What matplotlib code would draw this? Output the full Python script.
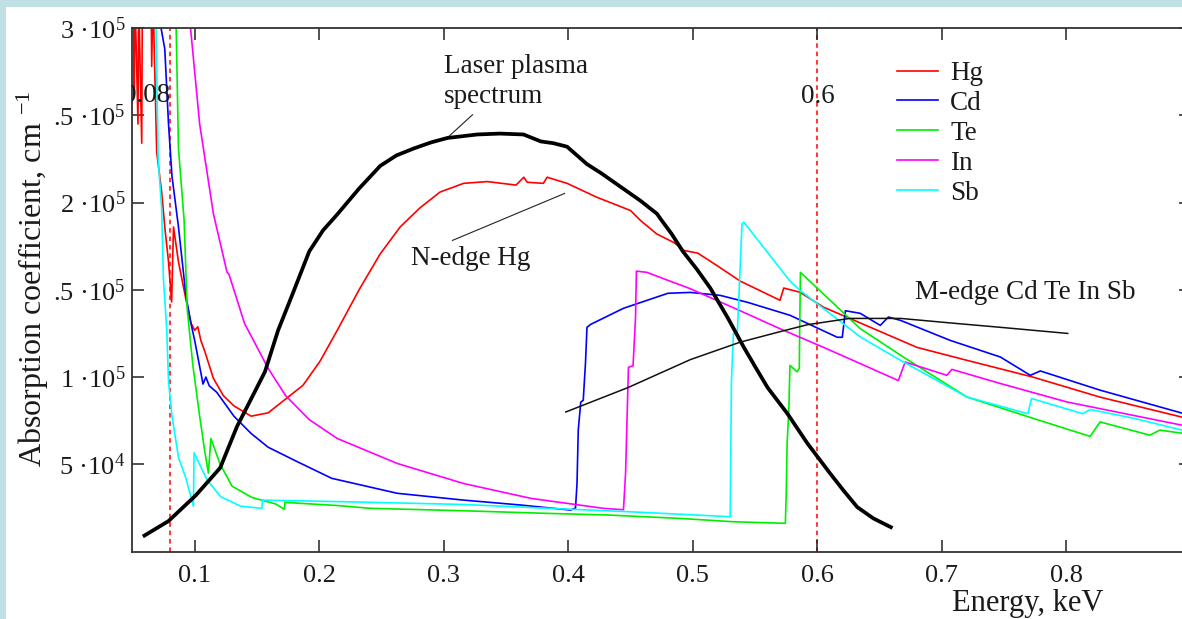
import matplotlib
matplotlib.use('Agg')
import matplotlib.pyplot as plt
from matplotlib.patches import Rectangle

plt.rcParams['font.family'] = ['Liberation Serif', 'DejaVu Serif']
plt.rcParams['mathtext.fontset'] = 'custom'
plt.rcParams['mathtext.rm'] = 'Liberation Serif'
plt.rcParams['mathtext.it'] = 'Liberation Serif:italic'

# Hg
hg_e = [0.0510, 0.0515, 0.0520, 0.0545, 0.0550, 0.0575, 0.0580, 0.0650, 0.0655, 0.0665,
        0.0695, 0.0735, 0.0760, 0.0790, 0.0815, 0.0830, 0.0870, 0.0930, 0.0970, 0.1000,
        0.1025, 0.1050, 0.1080, 0.1150, 0.1230, 0.1315, 0.1453, 0.1590, 0.1730, 0.1870,
        0.2006, 0.2145, 0.2320, 0.2490, 0.2650, 0.2810, 0.2970, 0.3160, 0.3350, 0.3580,
        0.3643, 0.3670, 0.3800, 0.3830, 0.3990, 0.4230, 0.4500, 0.4580, 0.4710, 0.4850,
        0.4930, 0.5040, 0.5170, 0.5380, 0.5700, 0.5730, 0.5860, 0.6050, 0.6260, 0.6670,
        0.6800, 0.7200, 0.7730, 0.8270, 0.8930]
hg_a = [3.2e5, 2.62e5, 3.2e5, 2.45e5, 3.2e5, 2.34e5, 3.2e5, 3.2e5, 2.78e5, 3.2e5,
        2.29e5, 2.06e5, 1.86e5, 1.66e5, 1.43e5, 1.86e5, 1.66e5, 1.445e5, 1.31e5, 1.268e5,
        1.288e5, 1.209e5, 1.15e5, 0.993e5, 0.894e5, 0.835e5, 0.776e5, 0.795e5, 0.874e5, 0.953e5,
        1.09e5, 1.268e5, 1.5e5, 1.706e5, 1.86e5, 1.97e5, 2.06e5, 2.11e5, 2.12e5, 2.10e5,
        2.145e5, 2.116e5, 2.11e5, 2.145e5, 2.11e5, 2.03e5, 1.954e5, 1.897e5, 1.82e5, 1.77e5,
        1.725e5, 1.71e5, 1.65e5, 1.55e5, 1.44e5, 1.51e5, 1.486e5, 1.40e5, 1.336e5, 1.21e5,
        1.17e5, 1.096e5, 1.00e5, 0.885e5, 0.77e5]

# Cd
cd_e = [0.0680, 0.0760, 0.0790, 0.0818, 0.0870, 0.0930, 0.0970, 0.1000, 0.1067, 0.1090,
        0.1117, 0.1177, 0.1315, 0.1453, 0.1590, 0.1810, 0.2100, 0.2627, 0.3160, 0.3616,
        0.4018, 0.4058, 0.4070, 0.4080, 0.4100, 0.4120, 0.4138, 0.4150, 0.4180, 0.4443,
        0.4800, 0.4980, 0.5220, 0.5440, 0.5780, 0.6160, 0.6200, 0.6225, 0.6345, 0.6505,
        0.6570, 0.6667, 0.7067, 0.7469, 0.7710, 0.7790, 0.8270, 0.8930]
cd_a = [3.2e5, 2.88e5, 2.45e5, 2.15e5, 1.86e5, 1.465e5, 1.308e5, 1.21e5, 0.96e5, 1.0e5,
        0.95e5, 0.913e5, 0.776e5, 0.677e5, 0.598e5, 0.52e5, 0.42e5, 0.334e5, 0.295e5, 0.267e5,
        0.238e5, 0.25e5, 0.39e5, 0.696e5, 0.856e5, 0.867e5, 1.08e5, 1.285e5, 1.302e5, 1.394e5,
        1.48e5, 1.485e5, 1.468e5, 1.428e5, 1.354e5, 1.228e5, 1.228e5, 1.38e5, 1.365e5, 1.296e5,
        1.344e5, 1.325e5, 1.21e5, 1.115e5, 1.01e5, 1.035e5, 0.925e5, 0.793e5]

# Te
te_e = [0.0846, 0.0870, 0.0915, 0.0940, 0.0985, 0.1040, 0.1080, 0.1110, 0.1130, 0.1205,
        0.1300, 0.1460, 0.1650, 0.1720, 0.1725, 0.2145, 0.2410, 0.3160, 0.3830, 0.4310,
        0.4900, 0.5326, 0.5743, 0.5750, 0.5757, 0.5770, 0.5780, 0.5837, 0.5855, 0.5858,
        0.5864, 0.6345, 0.6690, 0.7200, 0.7730, 0.8190, 0.8270, 0.8670, 0.8750, 0.8930]
te_a = [3.2e5, 2.31e5, 1.90e5, 1.39e5, 1.07e5, 0.776e5, 0.58e5, 0.45e5, 0.648e5, 0.50e5,
        0.375e5, 0.31e5, 0.273e5, 0.243e5, 0.282e5, 0.264e5, 0.248e5, 0.234e5, 0.219e5, 0.21e5,
        0.19e5, 0.171e5, 0.162e5, 0.335e5, 0.62e5, 0.80e5, 1.067e5, 1.03e5, 1.05e5, 1.277e5,
        1.60e5, 1.277e5, 1.115e5, 0.886e5, 0.764e5, 0.66e5, 0.743e5, 0.667e5, 0.696e5, 0.678e5]

# In
in_e = [0.0940, 0.1040, 0.1150, 0.1260, 0.1275, 0.1400, 0.1590, 0.1730, 0.1920, 0.2145,
        0.2627, 0.3160, 0.3700, 0.4280, 0.4443, 0.4460, 0.4483, 0.4520, 0.4540, 0.4547,
        0.4630, 0.4980, 0.5380, 0.5700, 0.6050, 0.6345, 0.6650, 0.6705, 0.7040, 0.7080,
        0.7470, 0.8000, 0.8540, 0.8930]
in_a = [3.2e5, 2.45e5, 1.937e5, 1.60e5, 1.59e5, 1.308e5, 1.05e5, 0.894e5, 0.756e5, 0.648e5,
        0.505e5, 0.39e5, 0.305e5, 0.248e5, 0.24e5, 0.45e5, 1.056e5, 1.065e5, 1.344e5, 1.607e5,
        1.60e5, 1.506e5, 1.38e5, 1.277e5, 1.17e5, 1.077e5, 0.98e5, 1.086e5, 1.01e5, 1.044e5,
        0.963e5, 0.858e5, 0.78e5, 0.724e5]

# Sb
sb_e = [0.0685, 0.0707, 0.0735, 0.0749, 0.0776, 0.0790, 0.0818, 0.0870, 0.0930, 0.0990,
        0.0995, 0.1100, 0.1210, 0.1370, 0.1540, 0.1545, 0.2250, 0.3160, 0.3780, 0.4500,
        0.5300, 0.5310, 0.5326, 0.5357, 0.5395, 0.5410, 0.5780, 0.5860, 0.6345, 0.6667,
        0.7200, 0.7690, 0.7720, 0.8130, 0.8190, 0.8540, 0.8930]
sb_a = [3.2e5, 2.25e5, 1.96e5, 1.565e5, 1.268e5, 0.973e5, 0.776e5, 0.54e5, 0.42e5, 0.26e5,
        0.566e5, 0.41e5, 0.314e5, 0.26e5, 0.248e5, 0.295e5, 0.285e5, 0.27e5, 0.25e5, 0.228e5,
        0.20e5, 0.98e5, 1.25e5, 1.25e5, 1.878e5, 1.887e5, 1.55e5, 1.497e5, 1.23e5, 1.096e5,
        0.886e5, 0.79e5, 0.877e5, 0.79e5, 0.814e5, 0.764e5, 0.696e5]

# laser plasma spectrum (arb. units on same scale)
laser_e = [0.0597, 0.0790, 0.1010, 0.1205, 0.1340, 0.1425, 0.1564, 0.1670, 0.1780, 0.1920,
           0.2030, 0.2140, 0.2320, 0.2490, 0.2620, 0.2760, 0.2900, 0.3030, 0.3270, 0.3450,
           0.3640, 0.3780, 0.3880, 0.3990, 0.4070, 0.4150, 0.4260, 0.4360, 0.4470, 0.4580,
           0.4713, 0.4740, 0.4830, 0.4920, 0.5030, 0.5140, 0.5280, 0.5410, 0.5500, 0.5600,
           0.5760, 0.5920, 0.6100, 0.6210, 0.6320, 0.6450, 0.6590]
laser_a = [0.092e5, 0.175e5, 0.323e5, 0.48e5, 0.717e5, 0.835e5, 1.03e5, 1.268e5, 1.465e5, 1.72e5,
           1.84e5, 1.928e5, 2.08e5, 2.21e5, 2.27e5, 2.31e5, 2.345e5, 2.37e5, 2.39e5, 2.395e5,
           2.39e5, 2.35e5, 2.34e5, 2.32e5, 2.27e5, 2.22e5, 2.17e5, 2.12e5, 2.065e5, 2.01e5,
           1.935e5, 1.907e5, 1.82e5, 1.72e5, 1.62e5, 1.51e5, 1.34e5, 1.17e5, 1.06e5, 0.94e5,
           0.79e5, 0.62e5, 0.45e5, 0.35e5, 0.255e5, 0.19e5, 0.14e5]

# M-edge guide curve
medge_e = [0.398, 0.448, 0.498, 0.538, 0.570, 0.592, 0.626, 0.667, 0.707, 0.747, 0.801]
medge_a = [0.80e5, 0.94e5, 1.10e5, 1.20e5, 1.26e5, 1.30e5, 1.336e5, 1.336e5, 1.31e5, 1.285e5, 1.25e5]

xticks = [0.1, 0.2, 0.3, 0.4, 0.5, 0.6, 0.7, 0.8]
xticklabels = ['0.1', '0.2', '0.3', '0.4', '0.5', '0.6', '0.7', '0.8']
yticks = [5e4, 1e5, 1.5e5, 2e5, 2.5e5, 3e5]
yticklabels = ['5 ·10$^{4}$', '1 ·10$^{5}$', '.5 ·10$^{5}$', '2 ·10$^{5}$', '.5 ·10$^{5}$', '3 ·10$^{5}$']
edges = [0.08, 0.6]

W, H = 1182, 619
fig = plt.figure(figsize=(W / 100, H / 100), dpi=100, facecolor='#bfe0e5')
fig.add_artist(Rectangle((6 / W, 0), 1, 1 - 7 / H, transform=fig.transFigure,
                         facecolor='white', edgecolor='none', zorder=-10))

ax = fig.add_axes([132.4 / W, (H - 551.6) / H, (1191 - 132.4) / W, (551.6 - 28) / H])
ax.set_xlim(0.05, 0.9)
ax.set_ylim(0, 3e5)

for xe in edges:
    ax.axvline(xe, color='red', lw=1.1, ls=(0, (3, 2.5)), zorder=1)

lw = 1.2
l_hg, = ax.plot(hg_e, hg_a, color='#ff0000', lw=lw, label='Hg')
l_cd, = ax.plot(cd_e, cd_a, color='#0000ff', lw=lw, label='Cd')
l_te, = ax.plot(te_e, te_a, color='#00ee00', lw=lw, label='Te')
l_in, = ax.plot(in_e, in_a, color='#ff00ff', lw=lw, label='In')
l_sb, = ax.plot(sb_e, sb_a, color='#00ffff', lw=lw, label='Sb')
ax.plot(laser_e, laser_a, color='black', lw=2.7, zorder=5)
ax.plot(medge_e, medge_a, color='#111111', lw=1.1, zorder=5)

# pointer lines for the annotations
ax.plot([0.3231, 0.303], [2.503e5, 2.372e5], color='#222222', lw=0.8)
ax.plot([0.307, 0.397], [1.783e5, 2.052e5], color='#222222', lw=0.8)

fs = 19.5
tc = '#1a1a1a'
ax.text(0.2998, 2.744e5, 'Laser plasma', fontsize=fs, color=tc, va='baseline')
ax.text(0.2998, 2.572e5, 'spectrum', fontsize=fs, color=tc, va='baseline')
ax.text(0.2734, 1.64e5, 'N-edge Hg', fontsize=fs, color=tc, va='baseline')
ax.text(0.6787, 1.45e5, 'M-edge Cd Te In Sb', fontsize=fs, color=tc, va='baseline')
ax.text(0.0805, 2.578e5, '0.08', fontsize=fs, color=tc, va='baseline', ha='right', clip_on=True)
ax.text(0.6, 2.572e5, '0.6', fontsize=fs, color=tc, va='baseline', ha='center')

ax.set_xticks(xticks)
ax.set_xticklabels(xticklabels)
ax.set_yticks(yticks)
ax.set_yticklabels(yticklabels)
ax.tick_params(direction='in', length=8.6, width=1.1, color='#222222',
               top=True, right=True, labelsize=19, labelcolor=tc)
ax.tick_params(axis='x', pad=10)
ax.tick_params(axis='y', pad=5)
for s in ax.spines.values():
    s.set_linewidth(1.3)
    s.set_color('#333333')

ax.legend(handles=[l_hg, l_cd, l_te, l_in, l_sb], loc='upper left',
          bbox_to_anchor=(897 / W, 1 - 61 / H), bbox_transform=fig.transFigure,
          frameon=False, borderpad=0, borderaxespad=0, handlelength=1.52,
          handletextpad=0.44, labelspacing=0.18, fontsize=fs, labelcolor=tc)

fig.text(33 / W, 1 - 279 / H, 'Absorption coefficient, cm $^{-1}$', rotation=90,
         ha='center', va='center', fontsize=23, color=tc)
fig.text(1028 / W, 1 / H, 'Energy, keV', ha='center', va='bottom', fontsize=22, color=tc)

fig.savefig('out.png', dpi=100, facecolor=fig.get_facecolor())
